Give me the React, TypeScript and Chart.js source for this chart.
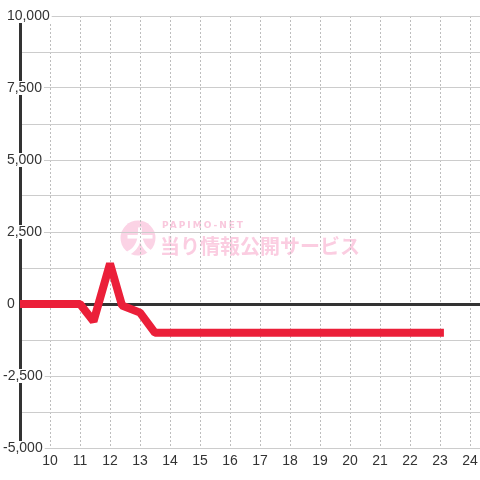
import React, { useEffect, useRef } from "react";
import { Chart, registerables } from "chart.js";

Chart.register(...registerables);

// Data (hour of day -> balance)
const hours: number[] = [9, 11, 11.45, 12, 12.4, 13, 13.5, 23.13];
const values: number[] = [0, 0, -600, 1400, -50, -300, -1000, -1000];

// Axes
const xTickHours: number[] = [10, 11, 12, 13, 14, 15, 16, 17, 18, 19, 20, 21, 22, 23, 24];
const xMin = 9;
const xMax = 24.333;
const yMin = -5000;
const yMax = 10000;
const yStep = 1250;
const yLabelStep = 2500;

// Watermark texts
const wmBadge = "大";
const wmBrand = "PAPIMO-NET";
const wmTitle = "当り情報公開サービス";

const FONT = "'Liberation Sans', Arial, sans-serif";

const watermarkPlugin = {
  id: "watermark",
  beforeDraw(chart: any) {
    const { ctx, chartArea } = chart;
    const cx = (chartArea.left + chartArea.right) / 2;
    const cy = (chartArea.top + chartArea.bottom) / 2;
    ctx.save();
    const bx = cx - 112;
    const by = cy + 6;
    ctx.fillStyle = "#fbd3e5";
    ctx.beginPath();
    ctx.arc(bx, by, 17.5, 0, Math.PI * 2);
    ctx.fill();
    ctx.fillStyle = "#ffffff";
    ctx.font = "bold 28px 'Noto Sans CJK JP'";
    ctx.textAlign = "center";
    ctx.textBaseline = "middle";
    ctx.fillText(wmBadge, bx + 2, by + 3);
    ctx.fillStyle = "#f9c8dd";
    ctx.font = "bold 9px 'DejaVu Sans'";
    ctx.textAlign = "left";
    (ctx as any).letterSpacing = "2px";
    ctx.fillText(wmBrand, bx + 24, by - 12);
    (ctx as any).letterSpacing = "0px";
    ctx.fillStyle = "#fbcde1";
    ctx.font = "bold 20px 'Noto Sans CJK JP'";
    ctx.fillText(wmTitle, bx + 22, by + 8);
    ctx.restore();
  },
};

export default function App() {
  const canvasRef = useRef<HTMLCanvasElement | null>(null);

  useEffect(() => {
    if (!canvasRef.current) return;
    const isLabel = (v: number) => v % yLabelStep === 0;
    const chart = new Chart(canvasRef.current, {
      type: "line",
      data: {
        datasets: [
          {
            data: hours.map((h, i) => ({ x: h, y: values[i] })),
            borderColor: "#eb1f39",
            borderWidth: 8,
            borderJoinStyle: "bevel",
            borderCapStyle: "butt",
            pointRadius: 0,
            tension: 0,
            fill: false,
          },
        ],
      },
      options: {
        animation: false,
        responsive: true,
        maintainAspectRatio: false,
        layout: { padding: { left: 3, top: 16, right: 0, bottom: 0 } },
        plugins: {
          legend: { display: false },
          tooltip: { enabled: false },
        },
        scales: {
          x: {
            type: "linear",
            min: xMin,
            max: xMax,
            afterBuildTicks: (scale: any) => {
              scale.ticks = xTickHours.map((v) => ({ value: v }));
            },
            afterFit: (scale: any) => {
              scale.height = 32;
              scale.paddingLeft = 0;
              scale.paddingRight = 0;
            },
            grid: {
              color: "#bdbdbd",
              lineWidth: 1,
              drawTicks: false,
            },
            border: { display: true, color: "#cccccc", width: 1, dash: [2, 2] },
            ticks: {
              color: "#333333",
              padding: 5,
              font: { family: FONT, size: 14 },
              maxRotation: 0,
              autoSkip: false,
              callback: (v: any) => String(v),
            },
          },
          y: {
            type: "linear",
            min: yMin,
            max: yMax,
            afterFit: (scale: any) => {
              scale.width = 17;
              scale.paddingTop = 0;
              scale.paddingBottom = 0;
            },
            grid: {
              color: (c: any) => (c.tick && c.tick.value === 0 ? "#333333" : "#cccccc"),
              lineWidth: (c: any) => (c.tick && c.tick.value === 0 ? 3 : 1),
              drawTicks: false,
            },
            border: { display: true, color: "#333333", width: 3 },
            ticks: {
              stepSize: yStep,
              autoSkip: false,
              mirror: true,
              padding: -17,
              crossAlign: "near",
              color: "#333333",
              font: { family: FONT, size: 14, lineHeight: 1 },
              showLabelBackdrop: (c: any) => isLabel(c.tick.value),
              backdropColor: "#ffffff",
              backdropPadding: { left: 2, right: 2, top: 0, bottom: 0 },
              callback: (v: any) => {
                const n = Number(v);
                if (!isLabel(n)) return "";
                const s = n.toLocaleString("en-US");
                return n >= 0 ? " " + s : s;
              },
            },
          },
        },
      } as any,
      plugins: [watermarkPlugin],
    });
    return () => chart.destroy();
  }, []);

  return (
    <div style={{ position: "fixed", left: 0, top: 0, width: 480, height: 480, background: "#ffffff" }}>
      <canvas ref={canvasRef} />
    </div>
  );
}
